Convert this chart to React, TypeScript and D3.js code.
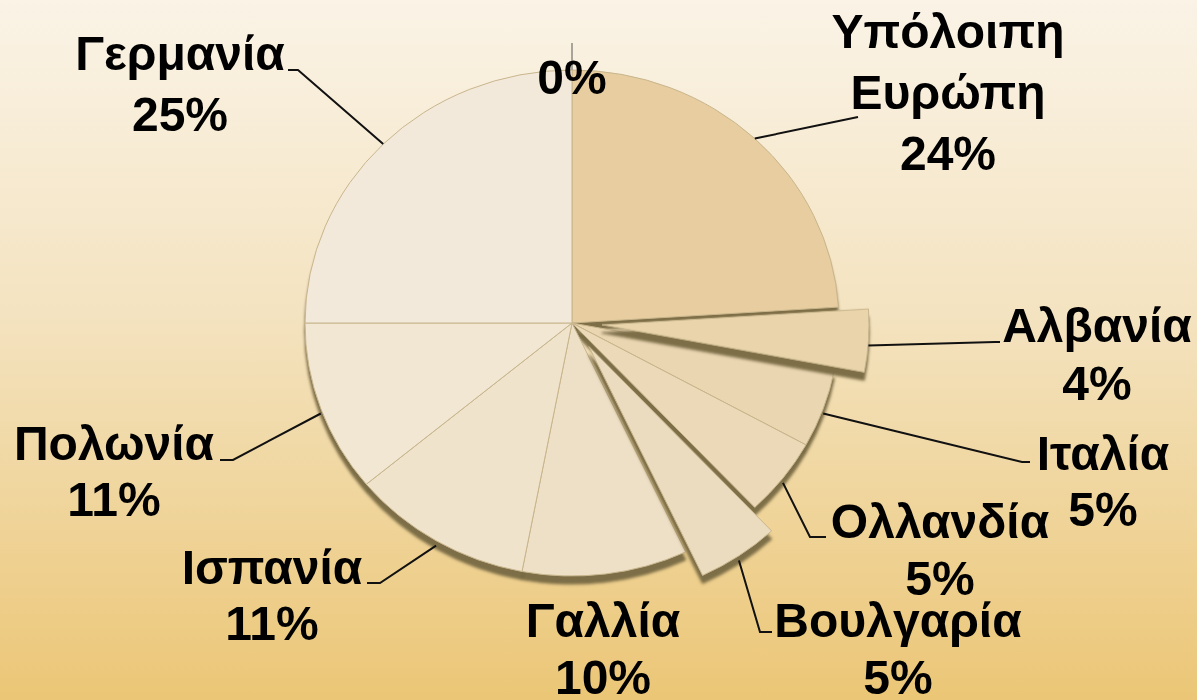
import React from "react";
import * as d3 from "d3";

const categories = ["", "Υπόλοιπη Ευρώπη", "Αλβανία", "Ιταλία", "Ολλανδία", "Βουλγαρία", "Γαλλία", "Ισπανία", "Πολωνία", "Γερμανία"];
const values = [0, 24, 4, 5, 5, 5, 10, 11, 11, 25];
const percentLabels = ["0%", "24%", "4%", "5%", "5%", "5%", "10%", "11%", "11%", "25%"];
const nameLines = [[], ["Υπόλοιπη", "Ευρώπη"], ["Αλβανία"], ["Ιταλία"], ["Ολλανδία"], ["Βουλγαρία"], ["Γαλλία"], ["Ισπανία"], ["Πολωνία"], ["Γερμανία"]];
const exploded = [false, false, true, false, false, true, false, false, false, false];
const sliceColors = ["#e8d5b0", "#e7cd9f", "#e9d4ab", "#ead6b1", "#ebd9b8", "#ebdcc0", "#eee0c6", "#efe3cc", "#f1e7d3", "#f2e9db"];

// label layout: text center x, first baseline y, line height, leader points after the anchor
const labelLayout: { x: number; y: number; lh: number; leader: [number, number][] | null }[] = [
  { x: 572, y: 94, lh: 0, leader: null },
  { x: 948, y: 48, lh: 61, leader: [[858, 117]] },
  { x: 1097, y: 342, lh: 58, leader: [[995, 342], [1000, 342]] },
  { x: 1103, y: 470, lh: 56, leader: [[1022, 462], [1030, 462]] },
  { x: 940, y: 538, lh: 57, leader: [[810, 537], [826, 537]] },
  { x: 898, y: 637, lh: 57, leader: [[760, 632], [772, 632]] },
  { x: 603, y: 637, lh: 57, leader: null },
  { x: 272, y: 584, lh: 56, leader: [[380, 583], [367, 583]] },
  { x: 114, y: 460, lh: 56, leader: [[233, 460], [220, 460]] },
  { x: 180, y: 70, lh: 61, leader: [[298, 70], [288, 70]] },
];

const W = 1197, H = 700;
const cx = 572, cy = 323, rx = 267, ry = 253, depth = 8, explode = 30;

export default function App() {
  const pie = d3.pie<number>().sort(null).value((d) => d);
  const arcs = pie(values);
  const arc = d3.arc<d3.PieArcDatum<number>>().innerRadius(0).outerRadius(rx);
  const k = ry / rx;

  const offsetOf = (i: number) => {
    const a = arcs[i];
    if (!exploded[i]) return [0, 0];
    const m = (a.startAngle + a.endAngle) / 2;
    return [Math.sin(m) * explode, -Math.cos(m) * explode * k];
  };
  const anchorOf = (i: number): [number, number] => {
    const a = arcs[i];
    const m = (a.startAngle + a.endAngle) / 2;
    const [ox, oy] = offsetOf(i);
    const yb = Math.cos(m) < 0 ? depth * 0.6 : 0;
    return [cx + Math.sin(m) * rx + ox, cy - Math.cos(m) * ry + oy + yb];
  };

  const order = d3.range(values.length).filter((i) => values[i] > 0);
  const flat = order.filter((i) => !exploded[i]);
  const ex = order.filter((i) => exploded[i]);

  const renderSlice = (i: number, layer: "side" | "top") => {
    const [ox, oy] = offsetOf(i);
    const d = arc(arcs[i]) || "";
    if (layer === "side") {
      return (
        <g key={"s" + i} transform={`translate(${cx + ox},${cy + oy + depth}) scale(1,${k})`}>
          <path d={d} fill="#7d6e47" stroke="#6a5c3a" strokeWidth={1} vectorEffect="non-scaling-stroke" />
        </g>
      );
    }
    return (
      <g key={"t" + i} transform={`translate(${cx + ox},${cy + oy}) scale(1,${k})`}>
        <path d={d} fill={sliceColors[i]} stroke="#c8b58c" strokeWidth={1} vectorEffect="non-scaling-stroke" />
      </g>
    );
  };

  const font = "'Liberation Sans', Arial, sans-serif";

  return (
    <svg width={W} height={H} style={{ position: "absolute", left: 0, top: 0 }} fontFamily={font}>
      <defs>
        <linearGradient id="bg" x1="0" y1="0" x2="0" y2="1">
          <stop offset="0" stopColor="#faf3e6" />
          <stop offset="0.45" stopColor="#f4e3c0" />
          <stop offset="1" stopColor="#ebc676" />
        </linearGradient>
        <filter id="blur" x="-10%" y="-10%" width="120%" height="120%">
          <feGaussianBlur stdDeviation="1.5" />
        </filter>
      </defs>
      <rect x={0} y={0} width={W} height={H} fill="url(#bg)" />
      <g filter="url(#blur)">{flat.map((i) => renderSlice(i, "side"))}</g>
      {flat.map((i) => renderSlice(i, "top"))}
      <g filter="url(#blur)">{ex.map((i) => renderSlice(i, "side"))}</g>
      {ex.map((i) => renderSlice(i, "top"))}
      {labelLayout.map((l, i) => {
        if (!l.leader) return null;
        const pts = [anchorOf(i), ...l.leader];
        return <path key={"l" + i} d={d3.line()(pts) || ""} fill="none" stroke="#111" strokeWidth={2} />;
      })}
      <line x1={cx} x2={cx} y1={43} y2={cy - ry} stroke="#a8a49a" strokeWidth={2} />
      {labelLayout.map((l, i) => {
        const lines = [...nameLines[i], percentLabels[i]];
        return (
          <text key={"t" + i} x={l.x} y={l.y} textAnchor="middle" fontSize={48} fontWeight="bold" fill="#000">
            {lines.map((s, j) => (
              <tspan key={j} x={l.x} y={l.y + j * l.lh}>{s}</tspan>
            ))}
          </text>
        );
      })}
    </svg>
  );
}
